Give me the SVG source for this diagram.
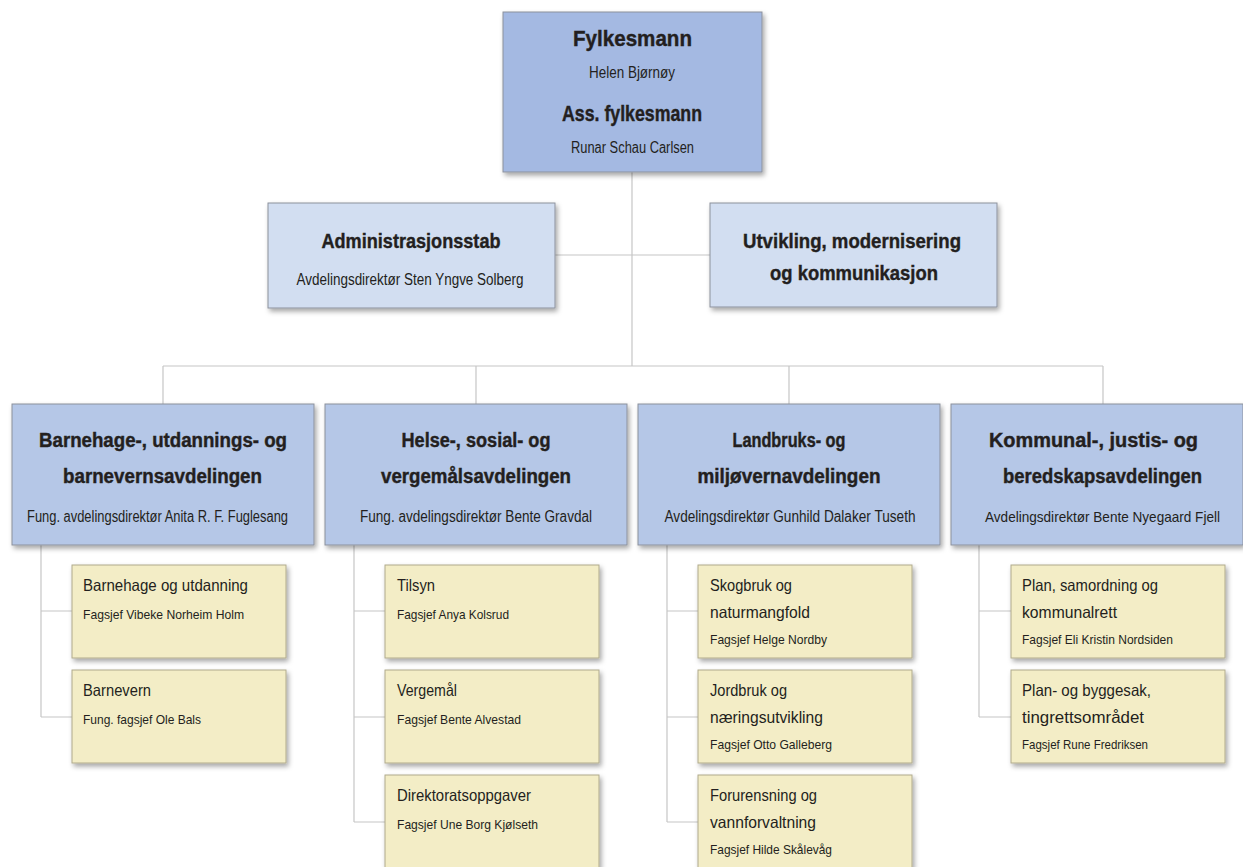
<svg xmlns="http://www.w3.org/2000/svg" width="1243" height="867" viewBox="0 0 1243 867">
<defs>
<filter id="sh" x="-10%" y="-10%" width="130%" height="140%">
<feDropShadow dx="2" dy="3" stdDeviation="2.5" flood-color="#000" flood-opacity="0.35"/>
</filter>
<style>
text{font-family:"Liberation Sans",Arial,sans-serif;fill:#231f20}
.top{fill:#a4b9e2;stroke:#8c919c;stroke-width:1}
.mid{fill:#d2def1;stroke:#8c919c;stroke-width:1}
.dep{fill:#b5c7e7;stroke:#8c919c;stroke-width:1}
.sub{fill:#f3edc6;stroke:#b0aa8c;stroke-width:1}
.c{text-anchor:middle}
.h1{font-size:22px;font-weight:bold;stroke:#231f20;stroke-width:0.4}
.h2{font-size:21px;font-weight:bold;stroke:#231f20;stroke-width:0.4}
.h3{font-size:19.5px;font-weight:bold;stroke:#231f20;stroke-width:0.4}
.s16{font-size:16px}
.s15{font-size:15px}
.t{font-size:16.5px}
.f{font-size:13.5px}
.ln{fill:none;stroke:#c6c6c6;stroke-width:1.2}
</style>
</defs>
<rect width="1243" height="867" fill="#fff"/>
<g id="connectors" class="ln">
<path d="M632 172V366M555 255H710M163 366H1103M163 366V404M476 366V404M789 366V404M1103 366V404"/>
<path d="M41 545V717M41 611H72M41 717H72"/>
<path d="M354 545V822M354 611H385M354 717H385M354 822H385"/>
<path d="M667 545V822M667 611H698M667 717H698M667 822H698"/>
<path d="M979 545V717M979 611H1011M979 717H1011"/>
</g>
<g id="fylkesmann">
<rect class="top" x="503" y="12" width="259" height="160" filter="url(#sh)"/>
<text class="c h1" x="632.5" y="46" textLength="119" lengthAdjust="spacingAndGlyphs">Fylkesmann</text>
<text class="c s16" x="632" y="78" textLength="86" lengthAdjust="spacingAndGlyphs">Helen Bjørnøy</text>
<text class="c h1" x="632" y="121" textLength="140" lengthAdjust="spacingAndGlyphs">Ass. fylkesmann</text>
<text class="c s16" x="632.5" y="153" textLength="123" lengthAdjust="spacingAndGlyphs">Runar Schau Carlsen</text>
</g>
<g id="administrasjonsstab">
<rect class="mid" x="268" y="203" width="287" height="105" filter="url(#sh)"/>
<text class="c h2" x="411" y="248" textLength="179" lengthAdjust="spacingAndGlyphs">Administrasjonsstab</text>
<text class="c s16" x="410" y="285" textLength="227" lengthAdjust="spacingAndGlyphs">Avdelingsdirektør Sten Yngve Solberg</text>
</g>
<g id="utvikling">
<rect class="mid" x="710" y="203" width="287" height="104" filter="url(#sh)"/>
<text class="c h2" x="852" y="248" textLength="218" lengthAdjust="spacingAndGlyphs">Utvikling, modernisering</text>
<text class="c h2" x="854" y="280" textLength="168" lengthAdjust="spacingAndGlyphs">og kommunikasjon</text>
</g>
<g id="dep-barnehage">
<rect class="dep" x="12" y="404" width="302" height="141" filter="url(#sh)"/>
<text class="c h3" x="163" y="447" textLength="248" lengthAdjust="spacingAndGlyphs">Barnehage-, utdannings- og</text>
<text class="c h3" x="162.5" y="483" textLength="199" lengthAdjust="spacingAndGlyphs">barnevernsavdelingen</text>
<text class="c s16" x="157.5" y="522" textLength="261" lengthAdjust="spacingAndGlyphs">Fung. avdelingsdirektør Anita R. F. Fuglesang</text>
</g>
<g id="dep-helse">
<rect class="dep" x="325" y="404" width="302" height="141" filter="url(#sh)"/>
<text class="c h3" x="476" y="447" textLength="149" lengthAdjust="spacingAndGlyphs">Helse-, sosial- og</text>
<text class="c h3" x="476" y="483" textLength="190" lengthAdjust="spacingAndGlyphs">vergemålsavdelingen</text>
<text class="c s16" x="476" y="522" textLength="232" lengthAdjust="spacingAndGlyphs">Fung. avdelingsdirektør Bente Gravdal</text>
</g>
<g id="dep-landbruk">
<rect class="dep" x="638" y="404" width="302" height="141" filter="url(#sh)"/>
<text class="c h3" x="789" y="447" textLength="113" lengthAdjust="spacingAndGlyphs">Landbruks- og</text>
<text class="c h3" x="789" y="483" textLength="183" lengthAdjust="spacingAndGlyphs">miljøvernavdelingen</text>
<text class="c s16" x="790" y="522" textLength="251" lengthAdjust="spacingAndGlyphs">Avdelingsdirektør Gunhild Dalaker Tuseth</text>
</g>
<g id="dep-kommunal">
<rect class="dep" x="951" y="404" width="292" height="141" filter="url(#sh)"/>
<text class="c h3" x="1093.5" y="447" textLength="209" lengthAdjust="spacingAndGlyphs">Kommunal-, justis- og</text>
<text class="c h3" x="1102.5" y="483" textLength="199" lengthAdjust="spacingAndGlyphs">beredskapsavdelingen</text>
<text class="c s15" x="1102.5" y="522" textLength="235" lengthAdjust="spacingAndGlyphs">Avdelingsdirektør Bente Nyegaard Fjell</text>
</g>
<g id="barnehage-utdanning">
<rect class="sub" x="72" y="565" width="214" height="93" filter="url(#sh)"/>
<text class="t" x="83" y="591" textLength="165" lengthAdjust="spacingAndGlyphs">Barnehage og utdanning</text>
<text class="f" x="83" y="619" textLength="161" lengthAdjust="spacingAndGlyphs">Fagsjef Vibeke Norheim Holm</text>
</g>
<g id="barnevern">
<rect class="sub" x="72" y="670" width="214" height="93" filter="url(#sh)"/>
<text class="t" x="83" y="696" textLength="68" lengthAdjust="spacingAndGlyphs">Barnevern</text>
<text class="f" x="83" y="724" textLength="118" lengthAdjust="spacingAndGlyphs">Fung. fagsjef Ole Bals</text>
</g>
<g id="tilsyn">
<rect class="sub" x="385" y="565" width="214" height="93" filter="url(#sh)"/>
<text class="t" x="397" y="591" textLength="38" lengthAdjust="spacingAndGlyphs">Tilsyn</text>
<text class="f" x="397" y="619" textLength="112" lengthAdjust="spacingAndGlyphs">Fagsjef Anya Kolsrud</text>
</g>
<g id="vergemal">
<rect class="sub" x="385" y="670" width="214" height="93" filter="url(#sh)"/>
<text class="t" x="397" y="696" textLength="60" lengthAdjust="spacingAndGlyphs">Vergemål</text>
<text class="f" x="397" y="724" textLength="124" lengthAdjust="spacingAndGlyphs">Fagsjef Bente Alvestad</text>
</g>
<g id="direktoratsoppgaver">
<rect class="sub" x="385" y="775" width="214" height="93" filter="url(#sh)"/>
<text class="t" x="397" y="801" textLength="134" lengthAdjust="spacingAndGlyphs">Direktoratsoppgaver</text>
<text class="f" x="397" y="829" textLength="141" lengthAdjust="spacingAndGlyphs">Fagsjef Une Borg Kjølseth</text>
</g>
<g id="skogbruk">
<rect class="sub" x="698" y="565" width="214" height="93" filter="url(#sh)"/>
<text class="t" x="710" y="591" textLength="82" lengthAdjust="spacingAndGlyphs">Skogbruk og</text>
<text class="t" x="710" y="618" textLength="100" lengthAdjust="spacingAndGlyphs">naturmangfold</text>
<text class="f" x="710" y="644" textLength="117" lengthAdjust="spacingAndGlyphs">Fagsjef Helge Nordby</text>
</g>
<g id="jordbruk">
<rect class="sub" x="698" y="670" width="214" height="93" filter="url(#sh)"/>
<text class="t" x="710" y="696" textLength="77" lengthAdjust="spacingAndGlyphs">Jordbruk og</text>
<text class="t" x="710" y="723" textLength="113" lengthAdjust="spacingAndGlyphs">næringsutvikling</text>
<text class="f" x="710" y="749" textLength="122" lengthAdjust="spacingAndGlyphs">Fagsjef Otto Galleberg</text>
</g>
<g id="forurensning">
<rect class="sub" x="698" y="775" width="214" height="93" filter="url(#sh)"/>
<text class="t" x="710" y="801" textLength="107" lengthAdjust="spacingAndGlyphs">Forurensning og</text>
<text class="t" x="710" y="828" textLength="106" lengthAdjust="spacingAndGlyphs">vannforvaltning</text>
<text class="f" x="710" y="854" textLength="122" lengthAdjust="spacingAndGlyphs">Fagsjef Hilde Skålevåg</text>
</g>
<g id="plan-samordning">
<rect class="sub" x="1011" y="565" width="214" height="93" filter="url(#sh)"/>
<text class="t" x="1022" y="591" textLength="136" lengthAdjust="spacingAndGlyphs">Plan, samordning og</text>
<text class="t" x="1022" y="618" textLength="95" lengthAdjust="spacingAndGlyphs">kommunalrett</text>
<text class="f" x="1022" y="644" textLength="151" lengthAdjust="spacingAndGlyphs">Fagsjef Eli Kristin Nordsiden</text>
</g>
<g id="plan-byggesak">
<rect class="sub" x="1011" y="670" width="214" height="93" filter="url(#sh)"/>
<text class="t" x="1022" y="696" textLength="129" lengthAdjust="spacingAndGlyphs">Plan- og byggesak,</text>
<text class="t" x="1022" y="723" textLength="122" lengthAdjust="spacingAndGlyphs">tingrettsområdet</text>
<text class="f" x="1022" y="749" textLength="126" lengthAdjust="spacingAndGlyphs">Fagsjef Rune Fredriksen</text>
</g>
</svg>
